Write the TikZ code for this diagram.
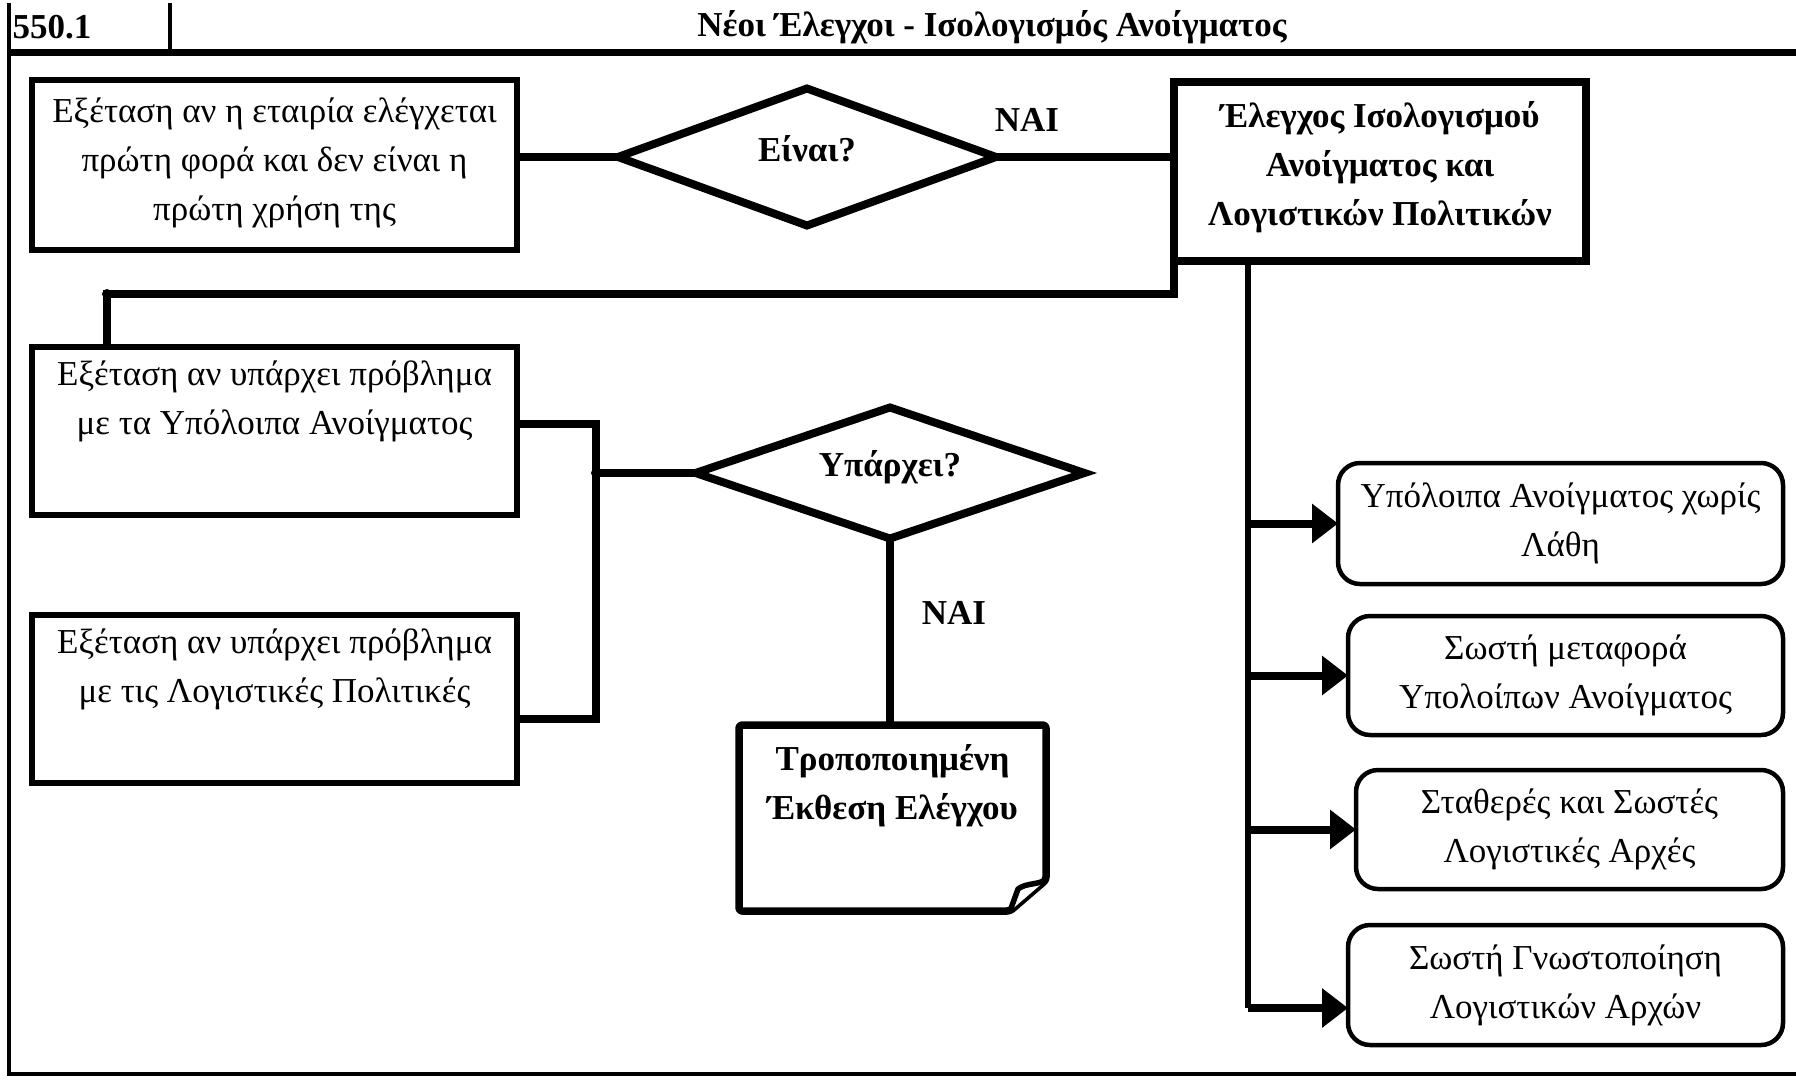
\documentclass[tikz,border=0pt]{standalone}
\usepackage{fontspec}
\setmainfont{Liberation Serif}
\usetikzlibrary{arrows.meta,shapes.geometric}
\begin{document}
\begin{tikzpicture}[x=1pt,y=-1pt,
  every node/.style={font=\fontsize{35}{49}\selectfont, inner sep=0pt, outer sep=0pt},
  boldtxt/.style={font=\fontsize{35}{49}\selectfont\bfseries},
  sqbox/.style={draw, line width=6.5, rectangle, align=center},
  rbox/.style={draw, line width=4.5, rectangle, rounded corners=22, align=center},
  dia/.style={draw, line width=8, diamond, inner sep=0pt},
  conn/.style={line width=8.5},
  trunk/.style={line width=6.5},
  arr/.style={line width=8, -{Triangle[length=26pt,width=38pt]}},
  frame/.style={line width=4},
  jdot/.style={circle, fill, minimum size=10pt}
]
\useasboundingbox (0,0) rectangle (1796,1079);

% frame and header
\draw[frame] (9,3) -- (9,1074) -- (1796,1074);
\draw[line width=7] (9,52) -- (1796,52);
\draw[frame] (170,3) -- (170,52);
\node[boldtxt] (hnum) at (52,27) {550.1};
\node[boldtxt] (title) at (992,27) {Νέοι Έλεγχοι - Ισολογισμός Ανοίγματος};

% nodes
\node[sqbox, minimum width=485, minimum height=170] (b1) at (274.5,165) {};
\node[align=center] (b1t) at (274.5,163) {Εξέταση αν η εταιρία ελέγχεται\\πρώτη φορά και δεν είναι η\\πρώτη χρήση της};

\node[dia, minimum width=378, minimum height=137, shape aspect=2.76] (d1) at (807,157) {};
\node[boldtxt] (d1t) at (807,149) {Είναι?};

\node[sqbox, line width=8, minimum width=412, minimum height=179] (b2) at (1380,171.5) {};
\node[boldtxt, align=center] (b2t) at (1380,167) {Έλεγχος Ισολογισμού\\Ανοίγματος και\\Λογιστικών Πολιτικών};

\node[boldtxt] (n1) at (1027,120) {ΝΑΙ};

\node[sqbox, minimum width=485, minimum height=168] (b3) at (274.5,431) {};
\node[align=center, anchor=north] (b3t) at (274.5,361) {Εξέταση αν υπάρχει πρόβλημα\\με τα Υπόλοιπα Ανοίγματος};

\node[sqbox, minimum width=485, minimum height=168] (b4) at (274.5,699) {};
\node[align=center, anchor=north] (b4t) at (274.5,629) {Εξέταση αν υπάρχει πρόβλημα\\με τις Λογιστικές Πολιτικές};

\node[dia, minimum width=389, minimum height=131, shape aspect=2.97] (d2) at (890,473) {};
\node[boldtxt] (d2t) at (890,467) {Υπάρχει?};

\node[boldtxt] (n2) at (954,613) {ΝΑΙ};

\node[minimum width=307, minimum height=186] (doc) at (892.5,818) {};
\node[boldtxt, align=center, anchor=north] (doct) at (892.5,744) {Τροποποιημένη\\Έκθεση Ελέγχου};

\node[rbox, minimum width=445, minimum height=121] (r1) at (1560.5,523.5) {Υπόλοιπα Ανοίγματος χωρίς\\Λάθη};
\node[rbox, minimum width=435, minimum height=119] (r2) at (1565.5,675.5) {Σωστή μεταφορά\\Υπολοίπων Ανοίγματος};
\node[rbox, minimum width=427, minimum height=119] (r3) at (1569.5,829.5) {Σταθερές και Σωστές\\Λογιστικές Αρχές};
\node[rbox, minimum width=435, minimum height=120] (r4) at (1565.5,985) {Σωστή Γνωστοποίηση\\Λογιστικών Αρχών};

% document shape
\draw[line width=7.5, line join=round, rounded corners=3]
  (doc.north west) -- (doc.north east) -- ([yshift=31pt]doc.south east)
  -- ([xshift=-36pt]doc.south east) -- (doc.south west) -- cycle;
\draw[line width=5.5, line join=round, fill=white]
  ([xshift=-36pt]doc.south east) -- ([xshift=-28pt,yshift=22pt]doc.south east)
  .. controls ([xshift=-20pt,yshift=28pt]doc.south east) and ([xshift=-10pt,yshift=26pt]doc.south east) .. ([yshift=31pt]doc.south east);

% coordinates
\coordinate (j1) at (107,294);
\coordinate (j2) at (596,473);
\coordinate (t4) at (1248,1008);

% connectors
\draw[conn] (b1.east |- d1.west) -- (d1.west);
\draw[conn] (d1.east) -- (b2.west |- d1.east);
\draw[conn] (b2.south west) |- (j1) -- (j1 |- b3.north);
\node[jdot] (j1d) at (j1) {};
\draw[conn] ([yshift=7pt]b3.east) -| (j2);
\draw[conn] ([yshift=-20pt]b4.east) -| (j2) -- (d2.west);
\node[jdot] (j2d) at (j2) {};
\draw[conn] (d2.south) -- (d2.south |- doc.north);

\draw[trunk] (b2.south -| t4) -- (t4);
\draw[arr] (t4) -- ([yshift=-23pt]r4.west);
\draw[arr] (r1.west -| t4) -- (r1.west);
\draw[arr] (r2.west -| t4) -- (r2.west);
\draw[arr] (r3.west -| t4) -- (r3.west);
\end{tikzpicture}
\end{document}
